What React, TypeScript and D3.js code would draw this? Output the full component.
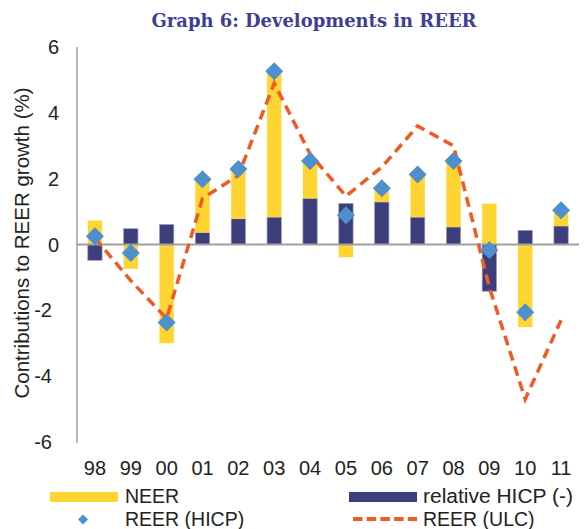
import React from "react";
import * as d3 from "d3";

const years = ["98", "99", "00", "01", "02", "03", "04", "05", "06", "07", "08", "09", "10", "11"];
const neer = [0.73, -0.74, -3.0, 1.6, 1.45, 4.35, 1.1, -0.39, 0.41, 1.28, 2.0, 1.24, -2.51, 0.45];
const relHicp = [-0.48, 0.48, 0.61, 0.36, 0.78, 0.83, 1.4, 1.25, 1.29, 0.83, 0.53, -1.42, 0.43, 0.56];
const reerHicp = [0.25, -0.26, -2.37, 1.98, 2.29, 5.26, 2.54, 0.89, 1.71, 2.13, 2.54, -0.17, -2.06, 1.04];
const reerUlc = [0.2, -1.1, -2.25, 1.4, 2.1, 4.9, 2.75, 1.47, 2.35, 3.6, 3.0, -1.3, -4.7, -2.3];
const yTicks = [-6, -4, -2, 0, 2, 4, 6];

const YELLOW = "#FFD533";
const NAVY = "#3C3F7B";
const BLUE = "#4F8FCD";
const ORANGE = "#F15A22";
const GRAY = "#A0A0A0";
const FONT = "'Liberation Sans', Arial, sans-serif";

export default function App() {
  const W = 585;
  const H = 529;
  const x = d3.scaleBand<string>().domain(years).range([77, 579]).paddingInner(0.6).paddingOuter(0.3);
  const y = d3.scaleLinear().domain([-6, 6]).range([442, 47]);

  const rows = years.map((yr, i) => ({ yr, hicp: relHicp[i], neer: neer[i] }));
  const stacked = d3.stack<any>().keys(["hicp", "neer"]).offset(d3.stackOffsetDiverging)(rows);
  const colors: Record<string, string> = { hicp: NAVY, neer: YELLOW };

  const line = d3
    .line<number>()
    .x((_, i) => (x(years[i]) as number) + x.bandwidth() / 2)
    .y((d) => y(d));

  const diamond = (cx: number, cy: number, r: number) =>
    `M${cx},${cy - r}L${cx + r},${cy}L${cx},${cy + r}L${cx - r},${cy}Z`;

  return (
    <svg width={W} height={H} style={{ position: "absolute", left: 0, top: 0 }}>
      <rect width={W} height={H} fill="#fff" />
      <text
        x={314}
        y={26.5}
        textAnchor="middle"
        fontFamily="'DejaVu Serif', serif"
        fontWeight="bold"
        fontSize={19}
        fill="#3D3F94"
        textLength={325}
        lengthAdjust="spacingAndGlyphs"
      >
        Graph 6: Developments in REER
      </text>

      {/* y axis */}
      <line x1={77} x2={77} y1={y(6)} y2={y(-6) + 1} stroke={GRAY} strokeWidth={1.5} />
      {yTicks.map((t) => (
        <text
          key={t}
          x={t < 0 ? 52 : 59}
          y={y(t)}
          textAnchor="end"
          dominantBaseline="central"
          fontFamily={FONT}
          fontSize={20}
          fill="#222"
        >
          {t}
        </text>
      ))}
      <text
        transform={`translate(21,243) rotate(-90)`}
        textAnchor="middle"
        dominantBaseline="central"
        fontFamily={FONT}
        fontSize={20.5}
        fill="#222"
      >
        Contributions to REER growth (%)
      </text>

      {/* bars */}
      {stacked.map((s) =>
        s.map((d, i) => (
          <rect
            key={s.key + i}
            x={x(years[i])}
            width={x.bandwidth()}
            y={y(Math.max(d[0], d[1]))}
            height={Math.abs(y(d[0]) - y(d[1]))}
            fill={colors[s.key]}
            stroke={s.key === "hicp" ? "#9C9EC4" : "none"}
            strokeWidth={0.7}
          />
        ))
      )}

      {/* zero line */}
      <line x1={77} x2={579} y1={y(0)} y2={y(0)} stroke={GRAY} strokeWidth={2} />

      {/* ULC line */}
      <path d={line(reerUlc) || ""} fill="none" stroke={ORANGE} strokeWidth={3.5} strokeDasharray="10,6" />

      {/* HICP diamonds */}
      {reerHicp.map((v, i) => (
        <path key={i} d={diamond((x(years[i]) as number) + x.bandwidth() / 2, y(v), 9)} fill={BLUE} />
      ))}

      {/* x labels */}
      {years.map((yr) => (
        <text
          key={yr}
          x={(x(yr) as number) + x.bandwidth() / 2}
          y={475}
          textAnchor="middle"
          fontFamily={FONT}
          fontSize={20}
          fill="#222"
        >
          {yr}
        </text>
      ))}

      {/* legend */}
      <rect x={50} y={492} width={68} height={10} fill={YELLOW} />
      <text x={125} y={503} fontFamily={FONT} fontSize={19.5} fill="#222">NEER</text>
      <rect x={349} y={492} width={68} height={10} fill={NAVY} />
      <text x={423} y={503} fontFamily={FONT} fontSize={19.5} fill="#222" textLength={150} lengthAdjust="spacingAndGlyphs">relative HICP (-)</text>
      <path d={diamond(83, 519.5, 5)} fill={BLUE} />
      <text x={125} y={525.5} fontFamily={FONT} fontSize={19.5} fill="#222">REER (HICP)</text>
      <line x1={353} x2={417} y1={519} y2={519} stroke={ORANGE} strokeWidth={4} strokeDasharray="9.5,4.2" />
      <text x={423} y={525.5} fontFamily={FONT} fontSize={19.5} fill="#222">REER (ULC)</text>
    </svg>
  );
}
